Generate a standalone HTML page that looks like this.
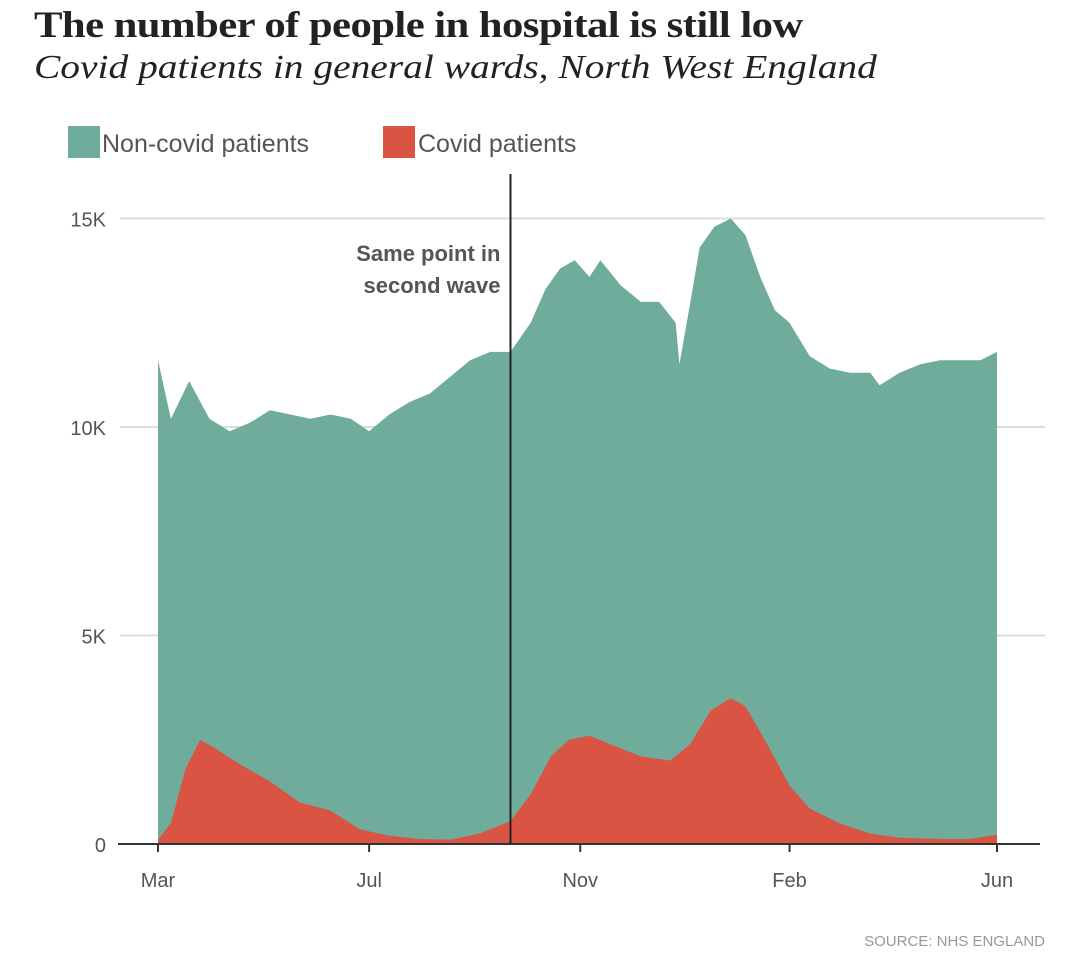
<!DOCTYPE html>
<html><head><meta charset="utf-8"><style>
body{margin:0;background:#fff;width:1080px;height:967px;overflow:hidden;font-family:"Liberation Sans",sans-serif}
.t{position:absolute;left:34px;top:4px;font:bold 37px "Liberation Serif",serif;color:#222;letter-spacing:-0.5px;transform:scaleX(1.155);transform-origin:0 0;white-space:nowrap}
.s{position:absolute;left:34px;top:49px;font:italic 34px "Liberation Serif",serif;color:#222;transform:scaleX(1.16);transform-origin:0 0;white-space:nowrap}
</style></head><body>
<div class="t">The number of people in hospital is still low</div>
<div class="s">Covid patients in general wards, North West England</div>
<svg id="c" width="1080" height="967" style="position:absolute;left:0;top:0">
<g>
<rect x="68" y="126" width="32" height="32" fill="#6fac9b"/>
<text x="102" y="152" font-size="25" fill="#555">Non-covid patients</text>
<rect x="383" y="126" width="32" height="32" fill="#d95443"/>
<text x="418" y="152" font-size="25" fill="#555">Covid patients</text>
</g>
<text x="1045" y="946" font-size="15" fill="#999" text-anchor="end">SOURCE: NHS ENGLAND</text>
</svg>
<script>
const totalDays=[0,7,17,28,39,50,61,72,83,94,105,115,126,137,148,159,170,181,192,203,211,219,227,235,241,252,263,273,282,284,290,295,303,312,320,328,336,344,355,366,377,388,393,404,415,426,437,448,457];
const totalK=[11.6,10.2,11.1,10.2,9.9,10.1,10.4,10.3,10.2,10.3,10.2,9.9,10.3,10.6,10.8,11.2,11.6,11.8,11.8,12.5,13.3,13.8,14.0,13.6,14.0,13.4,13.0,13.0,12.5,11.5,13.0,14.3,14.8,15.0,14.6,13.6,12.8,12.5,11.7,11.4,11.3,11.3,11.0,11.3,11.5,11.6,11.6,11.6,11.8];
const covidDays=[0,7,15,23,31,45,61,77,94,110,126,143,159,175,192,203,214,224,235,246,263,279,290,301,312,320,333,344,355,371,388,404,426,442,457];
const covidK=[0.1,0.5,1.8,2.5,2.3,1.9,1.5,1.0,0.8,0.35,0.2,0.12,0.1,0.25,0.55,1.2,2.1,2.5,2.6,2.4,2.1,2.0,2.4,3.2,3.5,3.3,2.3,1.4,0.85,0.5,0.25,0.15,0.12,0.12,0.22];
const yTicks=[0,5,10,15];
const yTickLabels=["0","5K","10K","15K"];
const xTickDays=[0,115,230,344,457];
const xTickLabels=["Mar","Jul","Nov","Feb","Jun"];
const markerDay=192;
const NS="http://www.w3.org/2000/svg",svg=document.getElementById('c');
const x=d=>158+d*(839/457), y=v=>844-v*41.7;
function mk(t,a){const e=document.createElementNS(NS,t);for(const k in a)e.setAttribute(k,a[k]);svg.appendChild(e);return e;}
yTicks.forEach((v,i)=>{
 if(v>0){const g=mk('line',{x1:120,x2:1045,y1:y(v),y2:y(v),stroke:'#ddd','stroke-width':2});
 
 }
 const t=mk('text',{x:106,y:y(v)+8,'font-size':20,fill:'#555','text-anchor':'end'});t.textContent=yTickLabels[i];
 
 
});
function area(days,vals,fill,name){
 let d='M'+x(days[0])+','+y(0);
 days.forEach((dd,i)=>d+='L'+x(dd).toFixed(1)+','+y(vals[i]).toFixed(1));
 d+='L'+x(days[days.length-1])+','+y(0)+'Z';
 const p=mk('path',{d:d,fill:fill});
 
 
}
area(totalDays,totalK,'#6fac9b','noncovid-area');
area(covidDays,covidK,'#d95443','covid-area');
const base=mk('line',{x1:118,x2:1040,y1:844,y2:844,stroke:'#333','stroke-width':2});


xTickDays.forEach((d,i)=>{
 const tk=mk('line',{x1:x(d),x2:x(d),y1:844,y2:852,stroke:'#333','stroke-width':2});
 
 
 const t=mk('text',{x:x(d),y:887,'font-size':20,fill:'#555','text-anchor':'middle'});t.textContent=xTickLabels[i];
 
 
});
const ml=mk('line',{x1:x(markerDay),x2:x(markerDay),y1:174,y2:844,stroke:'#222','stroke-width':2});


["Same point in","second wave"].forEach((s,i)=>{
 const t=mk('text',{x:x(markerDay)-10,y:261+i*32,'font-size':22,'font-weight':'bold',fill:'#555','text-anchor':'end'});t.textContent=s;
 
 
});
</script>
</body></html>
